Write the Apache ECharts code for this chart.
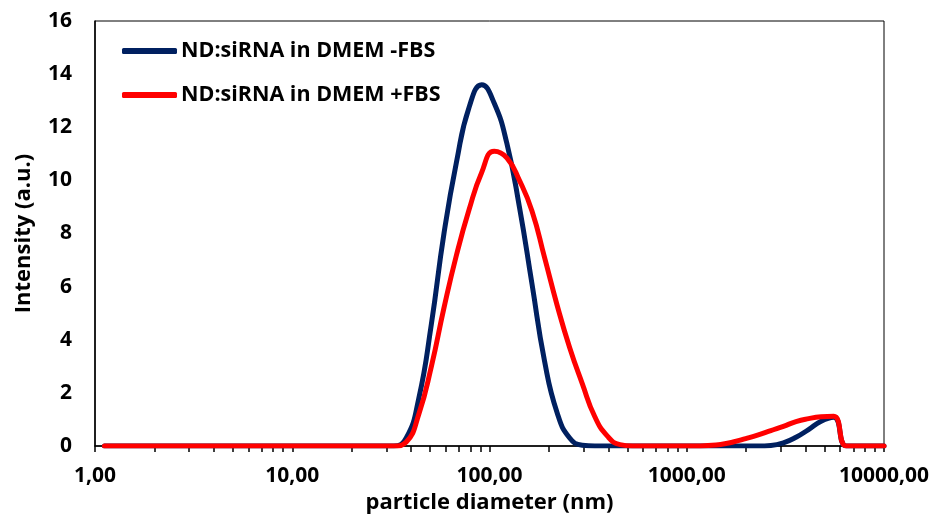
<!DOCTYPE html>
<html>
<head>
<meta charset="utf-8">
<script src="https://cdn.jsdelivr.net/npm/echarts@6/dist/echarts.min.js"></script>
<style>
  html, body { margin: 0; padding: 0; background: #ffffff; }
  #chart { width: 936px; height: 515px; }
</style>
</head>
<body>
<div id="chart"></div>
<script>
// Size classes (nm) of the intensity distribution
const diameters = [
  1.117, 1.294, 1.499, 1.736, 2.01, 2.328, 2.696, 3.122, 3.615, 4.187,
  4.849, 5.615, 6.503, 7.531, 8.721, 10.1, 11.7, 13.54, 15.69, 18.17,
  21.04, 24.36, 28.21, 32.67, 37.84, 43.82, 50.75, 58.77, 68.06, 78.82,
  91.28, 105.7, 122.4, 141.8, 164.2, 190.1, 220.2, 255.0, 295.3, 342.0,
  396.1, 458.7, 531.2, 615.1, 712.4, 825.0, 955.4, 1106, 1281, 1484,
  1718, 1990, 2305, 2669, 3091, 3580, 4145, 4801, 5560, 6439,
  7456, 8635, 10000
];

// Intensity (a.u.) without serum
const intensityNoFBS = [
  0, 0, 0, 0, 0, 0, 0, 0, 0, 0,
  0, 0, 0, 0, 0, 0, 0, 0, 0, 0,
  0, 0, 0, 0, 0.3, 1.8, 4.6, 8.0, 10.7, 12.75,
  13.6, 12.9, 11.4, 9.0, 6.1, 3.2, 1.25, 0.3, 0.03, 0,
  0, 0, 0, 0, 0, 0, 0, 0, 0, 0,
  0, 0, 0, 0.02, 0.12, 0.33, 0.62, 0.93, 1.08, 0,
  0, 0, 0
];

// Intensity (a.u.) with serum
const intensityFBS = [
  0, 0, 0, 0, 0, 0, 0, 0, 0, 0,
  0, 0, 0, 0, 0, 0, 0, 0, 0, 0,
  0, 0, 0, 0, 0.15, 1.2, 3.0, 5.2, 7.2, 8.9,
  10.3, 11.1, 10.85, 10.0, 8.85, 7.1, 5.3, 3.7, 2.35, 1.1,
  0.37, 0.05, 0, 0, 0, 0, 0, 0, 0.02, 0.06,
  0.15, 0.28, 0.42, 0.58, 0.74, 0.92, 1.03, 1.1, 1.12, 0,
  0, 0, 0
];

const seriesNames = ['ND:siRNA in DMEM -FBS', 'ND:siRNA in DMEM +FBS'];

// Labelled decades and all tick positions on the log axis
const xLabelValues = [1, 10, 100, 1000, 10000];
const xTickValues = [
  1, 2, 3, 4, 5, 6, 7, 8, 9,
  10, 20, 30, 40, 50, 60, 70, 80, 90,
  100, 200, 300, 400, 500, 600, 700, 800, 900,
  1000, 2000, 3000, 4000, 5000, 6000, 7000, 8000, 9000,
  10000
];
const yTickValues = [0, 2, 4, 6, 8, 10, 12, 14, 16];

const FONT = '"Open Sans", "Noto Sans", sans-serif';

const pairs = (xs, ys) => xs.map((x, i) => [x, ys[i]]);

const chart = echarts.init(document.getElementById('chart'), null, { renderer: 'canvas' });

chart.setOption({
  animation: false,
  backgroundColor: '#ffffff',
  grid: {
    left: 95, right: 52, top: 21, bottom: 69,
    outerBoundsMode: 'none',
    containLabel: false,
    show: true, borderColor: '#000000', borderWidth: 1,
    backgroundColor: 'transparent'
  },
  legend: {
    orient: 'vertical',
    left: 117, top: 35,
    itemWidth: 55, itemHeight: 6, itemGap: 22,
    icon: 'roundRect',
    textStyle: { fontFamily: FONT, fontWeight: 'bold', fontSize: 21.5, color: '#000000', padding: [0, 0, 0, -1] },
    data: seriesNames
  },
  xAxis: {
    type: 'log',
    logBase: 10,
    min: 1, max: 10000,
    name: 'particle diameter (nm)',
    nameLocation: 'middle',
    nameGap: 44,
    nameTextStyle: { fontFamily: FONT, fontWeight: 'bold', fontSize: 22, color: '#000000' },
    axisLine: { show: true, lineStyle: { color: '#000000', width: 1.5 } },
    axisTick: { show: true, inside: false, length: 6, customValues: xTickValues, lineStyle: { color: '#000000', width: 1.5 } },
    axisLabel: {
      customValues: xLabelValues,
      margin: 20,
      fontFamily: FONT, fontWeight: 'bold', fontSize: 21, color: '#000000',
      formatter: v => Number(v).toFixed(2).replace('.', ',')
    },
    splitLine: { show: false },
    minorTick: { show: false }
  },
  yAxis: {
    type: 'value',
    min: 0, max: 16, interval: 2,
    name: 'Intensity (a.u.)',
    nameLocation: 'middle',
    nameGap: 60,
    nameTextStyle: { fontFamily: FONT, fontWeight: 'bold', fontSize: 22, color: '#000000' },
    axisLine: { show: true, lineStyle: { color: '#000000', width: 1.5 } },
    axisTick: { show: false },
    axisLabel: {
      customValues: yTickValues,
      margin: 23,
      fontFamily: FONT, fontWeight: 'bold', fontSize: 21, color: '#000000'
    },
    splitLine: { show: false }
  },
  series: [
    {
      name: seriesNames[0],
      type: 'line',
      data: pairs(diameters, intensityNoFBS),
      smooth: 0.5,
      showSymbol: false,
      symbol: 'none',
      color: '#002060',
      lineStyle: { color: '#002060', width: 5, cap: 'round', join: 'round' },
      z: 2
    },
    {
      name: seriesNames[1],
      type: 'line',
      data: pairs(diameters, intensityFBS),
      smooth: 0.5,
      showSymbol: false,
      symbol: 'none',
      color: '#ff0000',
      lineStyle: { color: '#ff0000', width: 5, cap: 'round', join: 'round' },
      z: 3
    }
  ]
});
</script>
</body>
</html>
